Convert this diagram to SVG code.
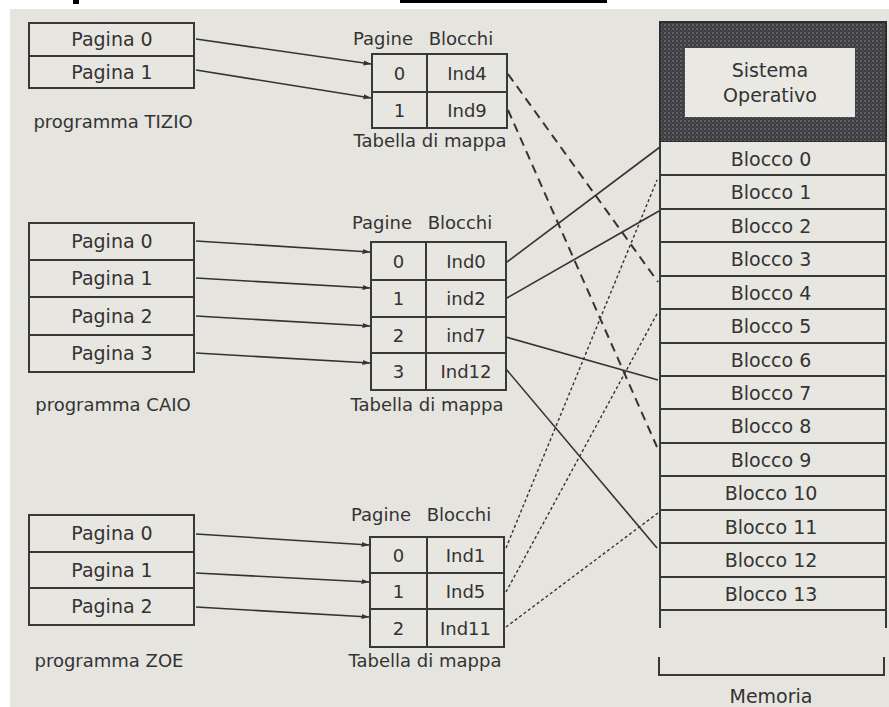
<svg xmlns="http://www.w3.org/2000/svg" width="889" height="707" viewBox="0 0 889 707">
<style>
.bg{fill:#e6e4df}
.box{fill:#e8e6e1;stroke:#383838;stroke-width:2}
.ln{stroke:#383838;stroke-width:2;fill:none}
.t{font-family:"DejaVu Sans",sans-serif;fill:#333;text-anchor:middle}
.f19{font-size:19px}
.f18{font-size:18px}
.c{stroke:#333;fill:none}
.solid{stroke-width:1.6}
.dash{stroke-width:2;stroke-dasharray:9 6}
.dot{stroke-width:1.4;stroke-dasharray:3 2.5}
</style>
<defs>
<marker id="ah" markerWidth="8" markerHeight="6" refX="7.5" refY="3" orient="auto" markerUnits="userSpaceOnUse">
<path d="M0,0.5 L8,3 L0,5.5 Z" fill="#333"/>
</marker>
<pattern id="speckle" width="4" height="4" patternUnits="userSpaceOnUse">
<rect width="4" height="4" fill="#3c3c40"/>
<circle cx="1" cy="1" r="0.8" fill="#8e8e94"/>
<circle cx="3" cy="3" r="0.6" fill="#6a6a70"/>
</pattern>
</defs>
<rect x="0" y="0" width="889" height="707" fill="#ffffff"/>
<rect class="bg" x="10" y="9" width="879" height="698"/>
<rect x="73" y="0" width="6" height="4" fill="#000"/>
<rect x="400" y="0" width="207" height="3" fill="#000"/>

<g id="prog-tizio">
<rect class="box" x="29" y="23" width="165" height="65"/>
<line class="ln" x1="29" y1="56" x2="194" y2="56"/>
<text class="t f19" x="112" y="46">Pagina 0</text>
<text class="t f19" x="112" y="79">Pagina 1</text>
<text class="t f18" x="113" y="128">programma TIZIO</text>
</g>

<g id="prog-caio">
<rect class="box" x="29" y="223" width="165" height="149"/>
<line class="ln" x1="29" y1="260" x2="194" y2="260"/>
<line class="ln" x1="29" y1="297" x2="194" y2="297"/>
<line class="ln" x1="29" y1="335" x2="194" y2="335"/>
<text class="t f19" x="112" y="248">Pagina 0</text>
<text class="t f19" x="112" y="285">Pagina 1</text>
<text class="t f19" x="112" y="323">Pagina 2</text>
<text class="t f19" x="112" y="360">Pagina 3</text>
<text class="t f18" x="113" y="411">programma CAIO</text>
</g>

<g id="prog-zoe">
<rect class="box" x="29" y="515" width="165" height="110"/>
<line class="ln" x1="29" y1="552" x2="194" y2="552"/>
<line class="ln" x1="29" y1="588" x2="194" y2="588"/>
<text class="t f19" x="112" y="540">Pagina 0</text>
<text class="t f19" x="112" y="577">Pagina 1</text>
<text class="t f19" x="112" y="613">Pagina 2</text>
<text class="t f18" x="109" y="667">programma ZOE</text>
</g>

<g id="table-tizio">
<text class="t f18" x="383" y="45">Pagine</text>
<text class="t f18" x="461" y="45">Blocchi</text>
<rect class="box" x="372" y="54" width="135" height="74"/>
<line class="ln" x1="427" y1="54" x2="427" y2="128"/>
<line class="ln" x1="372" y1="92" x2="507" y2="92"/>
<text class="t f18" x="399.5" y="80">0</text>
<text class="t f18" x="467" y="80">Ind4</text>
<text class="t f18" x="399.5" y="117">1</text>
<text class="t f18" x="467" y="117">Ind9</text>
<text class="t f18" x="430" y="147">Tabella di mappa</text>
</g>

<g id="table-caio">
<text class="t f18" x="382" y="229">Pagine</text>
<text class="t f18" x="460" y="229">Blocchi</text>
<rect class="box" x="371" y="242" width="135" height="148"/>
<line class="ln" x1="426" y1="242" x2="426" y2="390"/>
<line class="ln" x1="371" y1="280" x2="506" y2="280"/>
<line class="ln" x1="371" y1="317" x2="506" y2="317"/>
<line class="ln" x1="371" y1="353" x2="506" y2="353"/>
<text class="t f18" x="398.5" y="267.5">0</text>
<text class="t f18" x="466" y="267.5">Ind0</text>
<text class="t f18" x="398.5" y="305">1</text>
<text class="t f18" x="466" y="305">ind2</text>
<text class="t f18" x="398.5" y="341.5">2</text>
<text class="t f18" x="466" y="341.5">ind7</text>
<text class="t f18" x="398.5" y="378">3</text>
<text class="t f18" x="466" y="378">Ind12</text>
<text class="t f18" x="427" y="411">Tabella di mappa</text>
</g>

<g id="table-zoe">
<text class="t f18" x="381" y="521">Pagine</text>
<text class="t f18" x="459" y="521">Blocchi</text>
<rect class="box" x="370" y="537" width="134" height="110"/>
<line class="ln" x1="427" y1="537" x2="427" y2="647"/>
<line class="ln" x1="370" y1="573" x2="504" y2="573"/>
<line class="ln" x1="370" y1="609" x2="504" y2="609"/>
<text class="t f18" x="398.5" y="561.5">0</text>
<text class="t f18" x="465.5" y="561.5">Ind1</text>
<text class="t f18" x="398.5" y="597.5">1</text>
<text class="t f18" x="465.5" y="597.5">Ind5</text>
<text class="t f18" x="398.5" y="634.5">2</text>
<text class="t f18" x="465.5" y="634.5">Ind11</text>
<text class="t f18" x="425" y="667">Tabella di mappa</text>
</g>

<g id="memory">
<rect x="660" y="22" width="226" height="120" fill="url(#speckle)" stroke="#2e2e30" stroke-width="2"/>
<rect x="685" y="48" width="170" height="69" fill="#e9e8e3"/>
<text class="t f19" x="770" y="77">Sistema</text>
<text class="t f19" x="770" y="102">Operativo</text>
<rect x="660" y="142" width="226" height="468" fill="#e8e6e1"/>
<line class="ln" x1="660" y1="142" x2="660" y2="628"/>
<line class="ln" x1="886" y1="142" x2="886" y2="628"/>
<line class="ln" x1="660" y1="175" x2="886" y2="175"/>
<line class="ln" x1="660" y1="209" x2="886" y2="209"/>
<line class="ln" x1="660" y1="242" x2="886" y2="242"/>
<line class="ln" x1="660" y1="276" x2="886" y2="276"/>
<line class="ln" x1="660" y1="309" x2="886" y2="309"/>
<line class="ln" x1="660" y1="343" x2="886" y2="343"/>
<line class="ln" x1="660" y1="376" x2="886" y2="376"/>
<line class="ln" x1="660" y1="409" x2="886" y2="409"/>
<line class="ln" x1="660" y1="443" x2="886" y2="443"/>
<line class="ln" x1="660" y1="476" x2="886" y2="476"/>
<line class="ln" x1="660" y1="510" x2="886" y2="510"/>
<line class="ln" x1="660" y1="543" x2="886" y2="543"/>
<line class="ln" x1="660" y1="577" x2="886" y2="577"/>
<line class="ln" x1="660" y1="610" x2="886" y2="610"/>
<text class="t f19" x="771" y="165.5">Blocco 0</text>
<text class="t f19" x="771" y="199">Blocco 1</text>
<text class="t f19" x="771" y="232.5">Blocco 2</text>
<text class="t f19" x="771" y="266">Blocco 3</text>
<text class="t f19" x="771" y="299.5">Blocco 4</text>
<text class="t f19" x="771" y="333">Blocco 5</text>
<text class="t f19" x="771" y="366.5">Blocco 6</text>
<text class="t f19" x="771" y="399.5">Blocco 7</text>
<text class="t f19" x="771" y="433">Blocco 8</text>
<text class="t f19" x="771" y="466.5">Blocco 9</text>
<text class="t f19" x="771" y="500">Blocco 10</text>
<text class="t f19" x="771" y="533.5">Blocco 11</text>
<text class="t f19" x="771" y="567">Blocco 12</text>
<text class="t f19" x="771" y="600.5">Blocco 13</text>
<path class="ln" d="M659,657 V675 H884 V657"/>
<text class="t f19" x="771" y="703">Memoria</text>
</g>

<g id="connectors">
<line class="c solid" x1="196" y1="39" x2="371" y2="64" marker-end="url(#ah)"/>
<line class="c solid" x1="196" y1="70" x2="371" y2="98" marker-end="url(#ah)"/>
<line class="c solid" x1="196" y1="241" x2="370" y2="252" marker-end="url(#ah)"/>
<line class="c solid" x1="196" y1="278" x2="370" y2="288" marker-end="url(#ah)"/>
<line class="c solid" x1="196" y1="316" x2="370" y2="326" marker-end="url(#ah)"/>
<line class="c solid" x1="196" y1="353" x2="370" y2="363" marker-end="url(#ah)"/>
<line class="c solid" x1="196" y1="534" x2="369" y2="545" marker-end="url(#ah)"/>
<line class="c solid" x1="196" y1="573" x2="369" y2="582" marker-end="url(#ah)"/>
<line class="c solid" x1="196" y1="607" x2="369" y2="617" marker-end="url(#ah)"/>
<line class="c dash" x1="508" y1="74" x2="658" y2="282"/>
<line class="c dash" x1="508" y1="110" x2="657" y2="447"/>
<line class="c solid" x1="507" y1="262" x2="660" y2="147"/>
<line class="c solid" x1="507" y1="298" x2="659" y2="211"/>
<line class="c solid" x1="506" y1="337" x2="658" y2="380"/>
<line class="c solid" x1="506" y1="369" x2="657" y2="548"/>
<line class="c dot" x1="506" y1="548" x2="657" y2="180"/>
<line class="c dot" x1="506" y1="592" x2="658" y2="312"/>
<line class="c dot" x1="506" y1="627" x2="658" y2="513"/>
</g>
</svg>
